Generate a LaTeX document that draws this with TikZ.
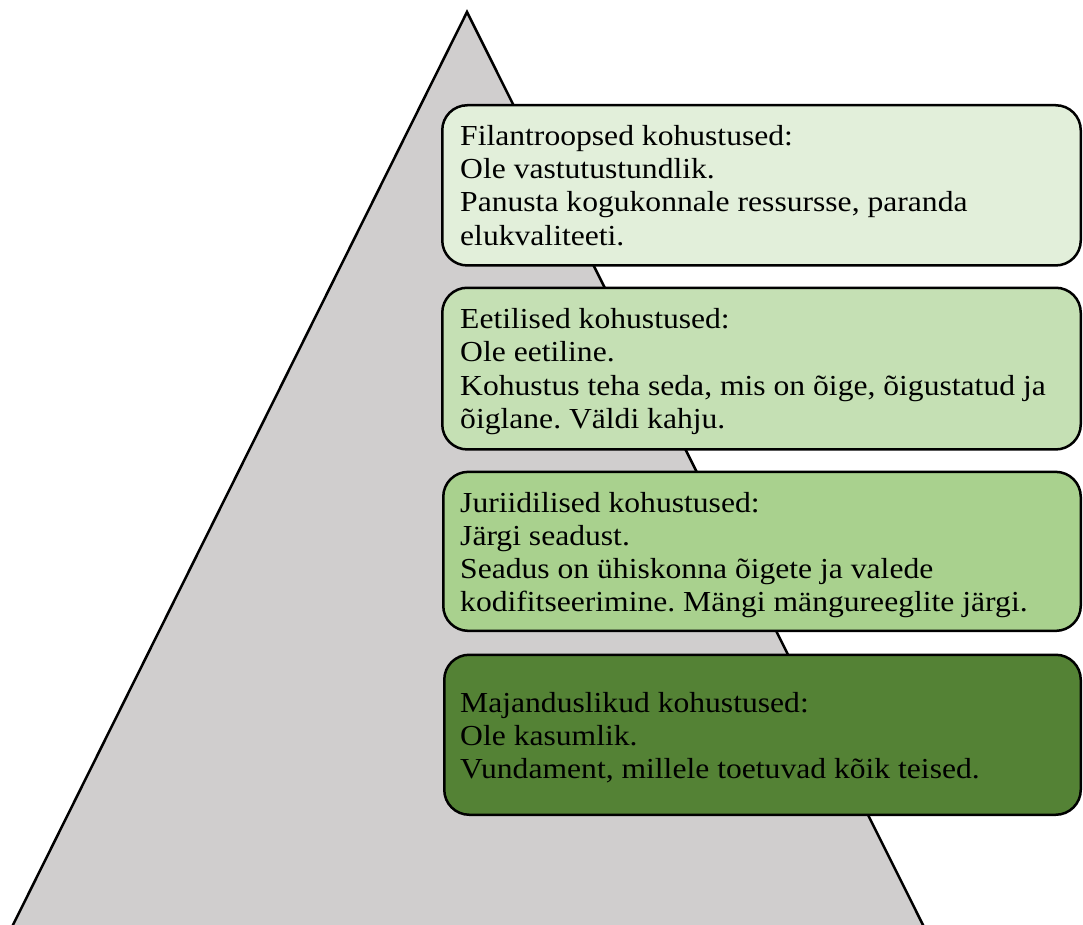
\documentclass[tikz,border=0pt]{standalone}
\usepackage{fontspec}
\setmainfont{Liberation Serif}[FakeStretch=1.09]
\definecolor{tri}{HTML}{D0CECE}
\definecolor{cone}{HTML}{E2EFDA}
\definecolor{ctwo}{HTML}{C5E0B4}
\definecolor{cthree}{HTML}{A9D18E}
\definecolor{cfour}{HTML}{548235}
\tikzset{
  tbox/.style={draw=black, line width=2.5pt, rounded corners=25pt, minimum width=638.5pt, minimum height=160pt, inner sep=0pt},
  ttext/.style={anchor=north west, inner sep=0pt, align=left, font=\fontsize{29}{33.3}\selectfont\frenchspacing}
}
\begin{document}
\begin{tikzpicture}[x=1pt,y=-1pt]
\useasboundingbox (0,0) rectangle (1083,925);
\fill[tri] (8,935) -- (467,12) -- (928,935) -- cycle;
\draw[line width=2.5pt, line join=miter] (8,935) -- (467,12) -- (928,935);
\node[tbox, fill=cone, minimum height=160.2pt] (b1) at (761.5,185.35) {};
\node[tbox, fill=ctwo, minimum height=161.7pt] (b2) at (761.5,368.6) {};
\node[tbox, fill=cthree, minimum height=159pt, minimum width=637.5pt] (b3) at (762,551.35) {};
\node[tbox, fill=cfour, minimum width=636.5pt] (b4) at (762.5,734.75) {};
\node[ttext] (t1) at (460,125) {Filantroopsed kohustused:\\Ole vastutustundlik.\\Panusta kogukonnale ressursse, paranda\\elukvaliteeti.};
\node[ttext] (t2) at (460,308.3) {Eetilised kohustused:\\Ole eetiline.\\Kohustus teha seda, mis on õige, õigustatud ja\\õiglane. Väldi kahju.};
\node[ttext] (t3) at (460,491.7) {Juriidilised kohustused:\\Järgi seadust.\\Seadus on ühiskonna õigete ja valede\\kodifitseerimine. Mängi mängureeglite järgi.};
\node[ttext] (t4) at (460,691.7) {Majanduslikud kohustused:\\Ole kasumlik.\\Vundament, millele toetuvad kõik teised.};
\end{tikzpicture}
\end{document}
